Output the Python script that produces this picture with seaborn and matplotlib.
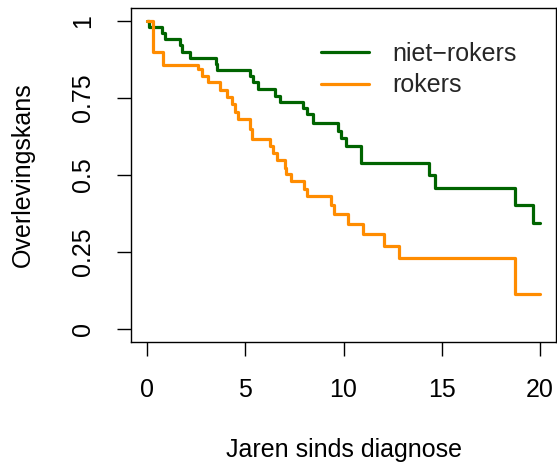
import numpy as np
import pandas as pd
import matplotlib
matplotlib.use("Agg")
import matplotlib.pyplot as plt
import seaborn as sns
from matplotlib.lines import Line2D

# --- data ---
groups = ["niet\u2212rokers", "rokers"]
niet_t = [0, 0.12, 0.75, 0.92, 1.68, 1.76, 2.2, 3.49, 3.57, 5.24, 5.41, 5.66, 6.5, 6.77,
          7.96, 8.13, 8.43, 9.74, 9.86, 10.13, 10.87, 14.35, 14.66, 18.73, 19.66, 20.0]
niet_s = [1.0, 0.98, 0.96, 0.94, 0.92, 0.90, 0.88, 0.86, 0.84, 0.82, 0.80, 0.778, 0.756, 0.735,
          0.718, 0.697, 0.67, 0.643, 0.619, 0.594, 0.54, 0.50, 0.459, 0.402, 0.345, 0.345]
rok_t = [0, 0.32, 0.83, 2.61, 2.78, 3.12, 3.72, 4.05, 4.3, 4.48, 4.65, 5.24, 5.33, 6.26, 6.4,
         6.6, 7.0, 7.05, 7.33, 8.0, 8.15, 9.36, 9.53, 10.25, 11.0, 12.08, 12.84, 18.73, 20.0]
rok_s = [1.0, 0.898, 0.858, 0.843, 0.821, 0.80, 0.775, 0.753, 0.73, 0.705, 0.681, 0.648, 0.616,
         0.594, 0.572, 0.549, 0.524, 0.502, 0.48, 0.456, 0.432, 0.403, 0.372, 0.342, 0.309,
         0.27, 0.232, 0.115, 0.115]
x_ticks = [0, 5, 10, 15, 20]
y_ticks = [0, 0.25, 0.5, 0.75, 1]
y_ticklabels = ["0", "0.25", "0.5", "0.75", "1"]
colors = ["#006400", "#FF8C00"]

df = pd.concat([
    pd.DataFrame({"t": niet_t, "s": niet_s, "groep": groups[0]}),
    pd.DataFrame({"t": rok_t, "s": rok_s, "groep": groups[1]}),
], ignore_index=True)

sns.set_theme(style="white")
plt.rcParams["font.family"] = ["Liberation Sans", "DejaVu Sans"]
FS = 18

fig = plt.figure(figsize=(5.57, 4.66), dpi=100)
ax = fig.add_axes([131.3 / 557, 1 - 341.6 / 466, (555.7 - 131.3) / 557, (341.6 - 8.4) / 466])

sns.lineplot(data=df, x="t", y="s", hue="groep", palette=dict(zip(groups, colors)),
             estimator=None, sort=False, drawstyle="steps-post", linewidth=2.3,
             legend=False, ax=ax)

ax.set_xlim(-0.8, 20.8)
ax.set_ylim(-0.04, 1.04)
ax.set_xticks(x_ticks)
ax.set_xticklabels([str(v) for v in x_ticks], fontsize=FS)
ax.set_yticks(y_ticks)
ax.set_yticklabels(y_ticklabels, fontsize=FS, rotation=90, va="center")
ax.tick_params(axis="both", direction="out", length=10, width=1, color="black",
               labelcolor="black", bottom=True, left=True)
ax.tick_params(axis="x", pad=16.5)
ax.tick_params(axis="y", pad=16)
for sp in ax.spines.values():
    sp.set_visible(True)
    sp.set_color("black")
    sp.set_linewidth(1)
ax.set_xlabel("")
ax.set_ylabel("")
ax.grid(False)

fig.text(343.5 / 557, 1 - 450 / 466, "Jaren sinds diagnose", fontsize=FS,
         ha="center", va="center", color="black")
fig.text(23 / 557, 1 - 175 / 466, "Overlevingskans", fontsize=FS,
         ha="center", va="center", rotation=90, color="black")

handles = [Line2D([0], [0], color=c, lw=2.3) for c in colors]
ax.legend(handles, groups, loc="center left", bbox_to_anchor=(321 / 557, 1 - 69.5 / 466),
          bbox_transform=fig.transFigure, frameon=False, fontsize=FS,
          handlelength=1.92, handletextpad=0.92, labelspacing=0.31,
          borderpad=0, borderaxespad=0)

fig.savefig("out.png", dpi=100)
